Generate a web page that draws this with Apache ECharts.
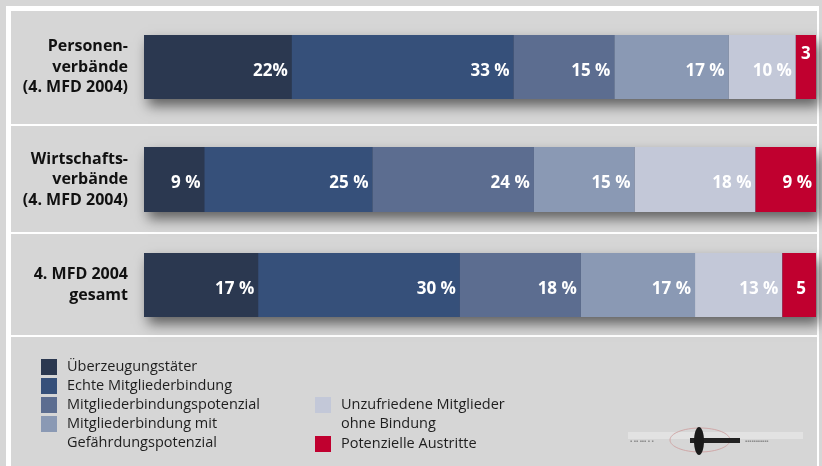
<!DOCTYPE html>
<html>
<head>
<meta charset="utf-8">
<script src="https://cdn.jsdelivr.net/npm/echarts@6/dist/echarts.min.js"></script>
<style>
html,body{margin:0;padding:0;background:#d6d6d6;}
#chart{width:822px;height:466px;}
</style>
</head>
<body>
<div id="chart"></div>
<script>
// ---- data ----
const categories = ['Personen-\nverbände\n(4. MFD 2004)', 'Wirtschafts-\nverbände\n(4. MFD 2004)', '4. MFD 2004\ngesamt'];
const seriesNames = ['Überzeugungstäter', 'Echte Mitgliederbindung', 'Mitgliederbindungspotenzial', 'Mitgliederbindung mit Gefährdungspotenzial', 'Unzufriedene Mitglieder ohne Bindung', 'Potenzielle Austritte'];
const legendTexts = ['Überzeugungstäter', 'Echte Mitgliederbindung', 'Mitgliederbindungspotenzial', 'Mitgliederbindung mit\nGefährdungspotenzial', 'Unzufriedene Mitglieder\nohne Bindung', 'Potenzielle Austritte'];
const ueberzeugung = [22, 9, 17];
const echteBindung = [33, 25, 30];
const bindungsPotenzial = [15, 24, 18];
const gefaehrdung = [17, 15, 17];
const unzufrieden = [10, 18, 13];
const austritte = [3, 9, 5];
const ueberzeugungLabels = ['22%', '9 %', '17 %'];
const echteBindungLabels = ['33 %', '25 %', '30 %'];
const bindungsPotenzialLabels = ['15 %', '24 %', '18 %'];
const gefaehrdungLabels = ['17 %', '15 %', '17 %'];
const unzufriedenLabels = ['10 %', '18 %', '13 %'];
const austritteLabels = ['3', '9 %', '5'];

const values = [ueberzeugung, echteBindung, bindungsPotenzial, gefaehrdung, unzufrieden, austritte];
const labels = [ueberzeugungLabels, echteBindungLabels, bindungsPotenzialLabels, gefaehrdungLabels, unzufriedenLabels, austritteLabels];
const colors = ['#2b3850', '#36507a', '#5c6d90', '#8a99b4', '#c3c8d8', '#c0002f'];

// ---- layout ----
const gridTops = [35, 147, 253];
const gridHeights = [64, 65, 64];
const FONT = '"Open Sans", "Noto Sans", sans-serif';

const grids = [], xAxes = [], yAxes = [], series = [];
categories.forEach((cat, g) => {
  grids.push({left: 144, right: 6, top: gridTops[g], height: gridHeights[g]});
  xAxes.push({type: 'value', gridIndex: g, min: 0, max: 100, show: false});
  yAxes.push({
    type: 'category', gridIndex: g, data: [cat],
    axisLine: {show: false}, axisTick: {show: false}, splitLine: {show: false},
    axisLabel: {margin: 16, color: '#111', fontFamily: FONT, fontWeight: 'bold', fontSize: 16, lineHeight: 20.5, align: 'right'}
  });
  // shadow base bar
  series.push({
    name: '__shadow' + g, type: 'bar', xAxisIndex: g, yAxisIndex: g,
    data: [100], barWidth: '100%', barGap: '-100%', silent: true,
    itemStyle: {color: '#2b3850', shadowColor: 'rgba(0,0,0,0.55)', shadowBlur: 12, shadowOffsetX: 4, shadowOffsetY: 7},
    label: {show: false}
  });
  values.forEach((arr, k) => {
    const v = arr[g];
    const txt = labels[k][g];
    let lab;
    if (v <= 3) lab = {position: 'inside', offset: [0, -13]};
    else if (v <= 5) lab = {position: 'inside', offset: [2, 4]};
    else lab = {position: 'insideRight', distance: 4, offset: [0, 4]};
    series.push({
      name: seriesNames[k], type: 'bar', stack: 's' + g, xAxisIndex: g, yAxisIndex: g,
      barWidth: '100%', barGap: '-100%',
      itemStyle: {color: colors[k]},
      data: [{value: v, label: Object.assign({show: true, formatter: txt, color: '#fff', fontFamily: FONT, fontWeight: 'bold', fontSize: 17}, lab)}]
    });
  });
});

const legendLayout = [
  {left: 41, iconTop: 359, lines: 1},
  {left: 41, iconTop: 378, lines: 1},
  {left: 41, iconTop: 397, lines: 1},
  {left: 41, iconTop: 416, lines: 2},
  {left: 315, iconTop: 397, lines: 2},
  {left: 315, iconTop: 436, lines: 1}
];
const legends = seriesNames.map((name, k) => {
  const L = legendLayout[k];
  const multi = L.lines > 1;
  return {
    data: [name], left: L.left, top: L.iconTop - (multi ? 20.5 : 1.5), padding: 0,
    orient: 'vertical', icon: 'rect', itemWidth: 16, itemHeight: 16, selectedMode: false,
    formatter: () => (multi ? '\n' : '') + legendTexts[k],
    textStyle: {color: '#1e1e1e', fontFamily: FONT, fontSize: 14.5, lineHeight: 19, padding: [0, 0, 0, 5]}
  };
});

const panelRects = [[11, 124], [126, 232], [234, 335], [337, 470]];
const graphic = [{type: 'rect', z: -10, silent: true, shape: {x: 6, y: 6, width: 813, height: 470}, style: {fill: '#ffffff'}}];
panelRects.forEach(p => graphic.push({type: 'rect', z: -9, silent: true, shape: {x: 11, y: p[0], width: 806, height: p[1] - p[0]}, style: {fill: '#d6d6d6'}}));
// small logo approximation
graphic.push({type: 'group', z: -8, silent: true, children: [
  {type: 'rect', shape: {x: 628, y: 432, width: 175, height: 7}, style: {fill: '#e2e2e2'}},
  {type: 'text', style: {x: 630, y: 438, text: '▪ ▪▪ ▪▪▪ ▪ ▪', fill: '#8a8a8a', font: '6px sans-serif'}},
  {type: 'text', style: {x: 745, y: 438, text: '▪▪▪▪▪▪▪▪▪▪▪', fill: '#8a8a8a', font: '6px sans-serif'}},
  {type: 'ellipse', shape: {cx: 700, cy: 440, rx: 30, ry: 12}, style: {fill: 'none', stroke: '#d0a8a8', lineWidth: 1}},
  {type: 'rect', shape: {x: 690, y: 438, width: 50, height: 5}, style: {fill: '#222'}},
  {type: 'ellipse', shape: {cx: 699, cy: 441, rx: 5, ry: 14}, style: {fill: '#1a1a1a'}}
]});

const chart = echarts.init(document.getElementById('chart'), null, {renderer: 'canvas'});
chart.setOption({
  backgroundColor: '#d6d6d6',
  animation: false,
  grid: grids, xAxis: xAxes, yAxis: yAxes, series: series,
  legend: legends, graphic: graphic
});
</script>
</body>
</html>
